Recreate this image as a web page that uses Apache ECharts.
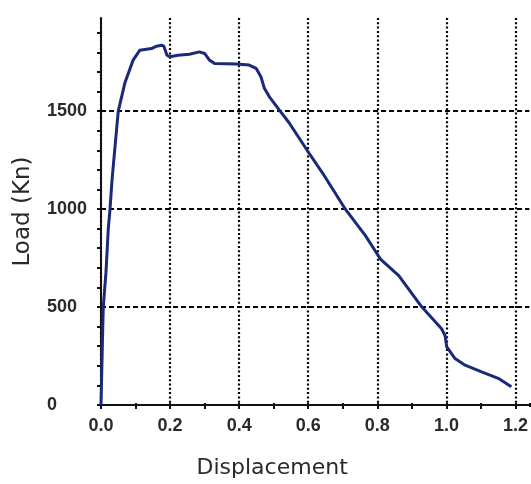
<!DOCTYPE html>
<html>
<head>
<meta charset="utf-8">
<script src="https://cdn.jsdelivr.net/npm/echarts@6/dist/echarts.min.js"></script>
<style>
html,body{margin:0;padding:0;background:#fff;}
#chart{width:531px;height:484px;}
</style>
</head>
<body>
<div id="chart"></div>
<script>
// Displacement values (x)
var displacement = [0, 0.005, 0.0066, 0.0144, 0.021, 0.026, 0.032, 0.045, 0.050, 0.069, 0.093, 0.112, 0.127, 0.146, 0.161, 0.175, 0.182, 0.191, 0.199, 0.223, 0.256, 0.285, 0.300, 0.314, 0.329, 0.391, 0.429, 0.449, 0.463, 0.473, 0.487, 0.516, 0.545, 0.602, 0.641, 0.708, 0.766, 0.809, 0.862, 0.929, 0.986, 0.996, 1.001, 1.025, 1.054, 1.102, 1.150, 1.188];
// Load values (Kn)
var load = [0, 388, 500, 678, 897, 998, 1150, 1404, 1500, 1643, 1760, 1810, 1814, 1819, 1831, 1836, 1831, 1785, 1777, 1785, 1790, 1802, 1794, 1760, 1743, 1740, 1735, 1718, 1675, 1616, 1574, 1506, 1439, 1286, 1185, 998, 863, 745, 660, 500, 389, 355, 296, 237, 203, 169, 136, 93];
var xTickLabels = ['0.0', '0.2', '0.4', '0.6', '0.8', '1.0', '1.2'];
var yTickLabels = [0, 500, 1000, 1500];

var X_MAX = 1.24, X_STEP = 0.1;
var Y_MAX = 1975, Y_STEP = 100;

var points = displacement.map(function (d, i) { return [d, load[i]]; });

// split line colours per tick (only at labelled ticks)
var xSplitColors = [];
for (var i = 0; i <= 13; i++) xSplitColors.push((i % 2 === 0 && i <= 12) ? '#000' : 'rgba(0,0,0,0)');
var ySplitColors = [];
for (var j = 0; j <= 20; j++) ySplitColors.push((j % 5 === 0 && j > 0 && j < 20) ? '#000' : 'rgba(0,0,0,0)');

var labelFont = { fontFamily: 'Liberation Sans', fontWeight: 'bold', fontSize: 18, color: '#2a2a2a' };

var chart = echarts.init(document.getElementById('chart'), null, { renderer: 'canvas' });
chart.setOption({
  animation: false,
  backgroundColor: '#ffffff',
  grid: { left: 101, right: 0, top: 18, bottom: 77 },
  xAxis: [{
    type: 'value', min: 0, max: X_MAX, interval: X_STEP,
    name: 'Displacement', nameLocation: 'middle', nameGap: 52,
    nameTextStyle: { fontFamily: 'DejaVu Sans', fontSize: 22, color: '#2a2a2a', padding: [0, 86, 0, 0] },
    axisLine: { show: true, lineStyle: { color: '#111', width: 2 } },
    axisTick: { show: true, inside: false, length: 4, lineStyle: { color: '#111', width: 2 } },
    axisLabel: Object.assign({ margin: 12, showMaxLabel: false,
      formatter: function (v, idx) { return (idx % 2 === 0 && v <= 1.2001) ? xTickLabels[idx / 2] : ''; } }, labelFont),
    splitLine: { show: true, lineStyle: { color: xSplitColors, width: 2.2, type: [2, 2.3] } }
  }, {
    type: 'value', min: 0, max: X_MAX, interval: X_STEP, position: 'top', offset: -389,
    axisLine: { show: false }, axisLabel: { show: false }, splitLine: { show: false },
    axisTick: { show: true, inside: false, length: 4, lineStyle: { color: '#111', width: 2 } }
  }],
  yAxis: [{
    type: 'value', min: 0, max: Y_MAX, interval: Y_STEP,
    name: 'Load (Kn)', nameLocation: 'middle', nameGap: 66,
    nameTextStyle: { fontFamily: 'DejaVu Sans', fontSize: 23, color: '#2a2a2a' },
    axisLine: { show: true, lineStyle: { color: '#111', width: 2 } },
    axisTick: { show: true, inside: false, length: 4, lineStyle: { color: '#111', width: 2 } },
    axisLabel: Object.assign({ margin: 54, align: 'left', showMaxLabel: false,
      formatter: function (v) { return yTickLabels.indexOf(v) >= 0 ? String(v) : ''; } }, labelFont),
    splitLine: { show: true, lineStyle: { color: ySplitColors, width: 2.2, type: [5, 3] } }
  }, {
    type: 'value', min: 0, max: Y_MAX, interval: Y_STEP, position: 'right', offset: -430,
    axisLine: { show: false }, axisLabel: { show: false }, splitLine: { show: false },
    axisTick: { show: true, inside: false, length: 4, lineStyle: { color: '#111', width: 2 } }
  }],
  series: [{
    type: 'line', xAxisIndex: 0, yAxisIndex: 0,
    data: points, showSymbol: false, smooth: false,
    lineStyle: { color: '#1a2a78', width: 3 }
  }]
});
</script>
</body>
</html>
